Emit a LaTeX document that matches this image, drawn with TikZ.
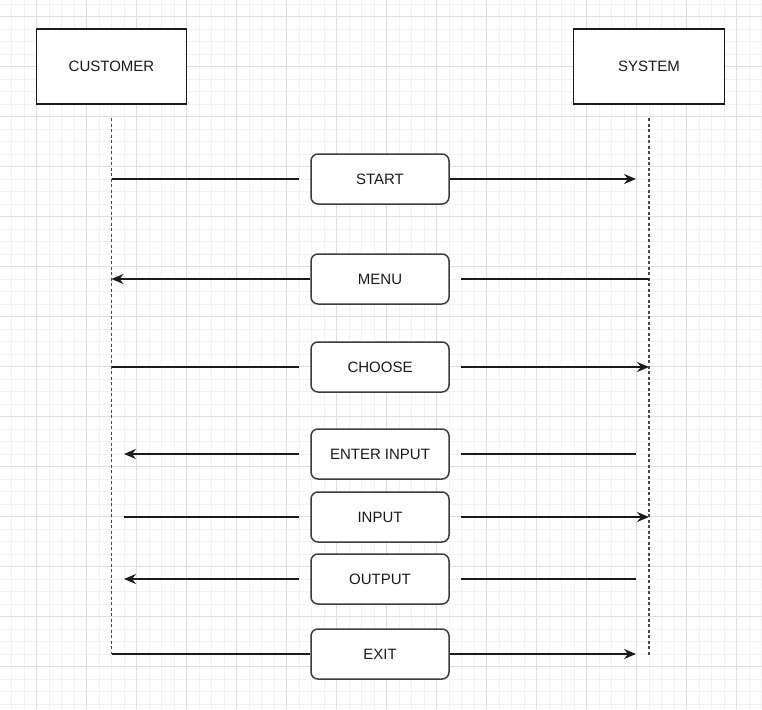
\documentclass[tikz,border=0pt]{standalone}
\usepackage{fontspec}
\setmainfont{Liberation Sans}
\usetikzlibrary{arrows.meta}
\definecolor{gridminor}{HTML}{F2F2F2}
\definecolor{gridmajor}{HTML}{DEDEDE}
\definecolor{ink}{HTML}{1A1A1A}
\begin{document}
\begin{tikzpicture}[x=1pt,y=-1pt,
  minorline/.style={draw=gridminor,line width=0.8pt},
  majorline/.style={draw=gridmajor,line width=0.9pt},
  actor/.style={draw=ink,line width=1.5pt,fill=white,minimum width=150pt,minimum height=75pt,inner sep=0pt,
    font=\fontsize{15}{18}\selectfont,text=ink},
  msgbox/.style={draw=ink!85,line width=1.5pt,fill=white,rounded corners=7pt,minimum width=138pt,minimum height=50pt,inner sep=0pt,
    font=\fontsize{15}{18}\selectfont,text=ink},
  lifeline/.style={draw=ink!80,line width=1.5pt,dash pattern=on 3pt off 2.5pt},
  msg/.style={draw=ink,line width=1.5pt},
  arr/.style={msg,-{Stealth[length=12pt,width=10pt,inset=4pt]}}]
\useasboundingbox (0,0) rectangle (762,709);
\fill[white] (0,0) rectangle (762,709);
% grid
\foreach \i in {0,...,60} \draw[minorline] ({11.7+12.5*\i},0) -- ++(0,709);
\foreach \i in {0,...,56} \draw[minorline] (0,{4.2+12.5*\i}) -- ++(762,0);
\foreach \i in {0,...,14} \draw[majorline] ({36.7+50*\i},0) -- ++(0,709);
\foreach \i in {0,...,13} \draw[majorline] (0,{16.7+50*\i}) -- ++(762,0);

% actors
\node[actor] (cust) at (111.5,66.5) {CUSTOMER};
\node[actor,minimum width=151pt] (sys) at (649,66.5) {SYSTEM};

% lifelines
\coordinate (ctop) at (111.5,118);
\coordinate (cbot) at (111.5,654);
\coordinate (stop) at (649,118);
\coordinate (sbot) at (649,655);
\draw[lifeline] (ctop) -- (cbot);
\draw[lifeline] (stop) -- (sbot);

% message boxes
\node[msgbox] (start) at (380,179) {START};
\node[msgbox] (menu) at (380,279) {MENU};
\node[msgbox] (choose) at (380,367) {CHOOSE};
\node[msgbox] (enter) at (380,454) {ENTER INPUT};
\node[msgbox] (input) at (380,517) {INPUT};
\node[msgbox] (output) at (380,579) {OUTPUT};
\node[msgbox] (exit) at (380,654) {EXIT};

% START
\coordinate (a1) at (111.5,179); \coordinate (a2) at (299,179); \coordinate (a3) at (636,179);
\draw[msg] (a1) -- (a2);
\draw[arr] (start.east) -- (a3);
% MENU
\coordinate (b1) at (461,279); \coordinate (b2) at (649,279); \coordinate (b3) at (111.5,279);
\draw[msg] (b1) -- (b2);
\draw[arr] (menu.west) -- (b3);
% CHOOSE
\coordinate (c1) at (111.5,367); \coordinate (c2) at (299,367); \coordinate (c3) at (461,367); \coordinate (c4) at (649,367);
\draw[msg] (c1) -- (c2);
\draw[arr] (c3) -- (c4);
% ENTER INPUT
\coordinate (d1) at (461,454); \coordinate (d2) at (636,454); \coordinate (d3) at (299,454); \coordinate (d4) at (124,454);
\draw[msg] (d1) -- (d2);
\draw[arr] (d3) -- (d4);
% INPUT
\coordinate (e1) at (124,517); \coordinate (e2) at (299,517); \coordinate (e3) at (461,517); \coordinate (e4) at (649,517);
\draw[msg] (e1) -- (e2);
\draw[arr] (e3) -- (e4);
% OUTPUT
\coordinate (f1) at (461,579); \coordinate (f2) at (636,579); \coordinate (f3) at (299,579); \coordinate (f4) at (124,579);
\draw[msg] (f1) -- (f2);
\draw[arr] (f3) -- (f4);
% EXIT
\coordinate (g3) at (636,654);
\draw[msg] (cbot) -- (exit.west);
\draw[arr] (exit.east) -- (g3);
\end{tikzpicture}
\end{document}
